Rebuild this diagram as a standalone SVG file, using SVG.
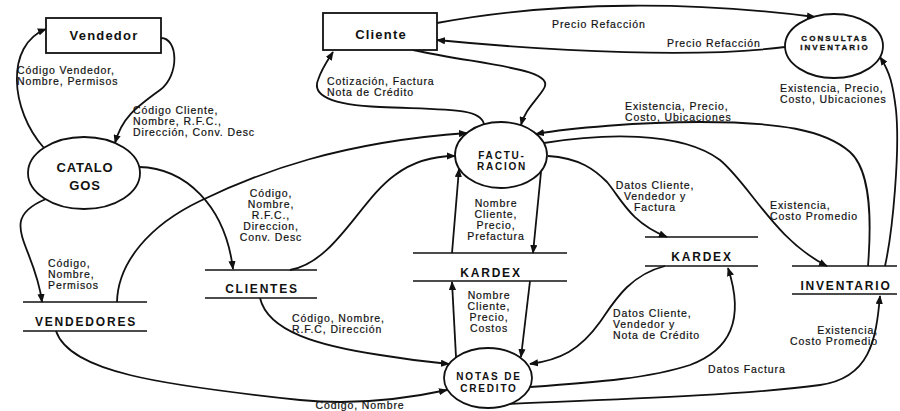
<svg xmlns="http://www.w3.org/2000/svg" width="900" height="411" viewBox="0 0 900 411">
  <style>
    .shape { fill: #fff; stroke: #111; stroke-width: 1.8; }
    .store { stroke: #111; stroke-width: 1.6; }
    .flow { fill: none; stroke: #111; stroke-width: 1.8; marker-end: url(#ah); }
    .lbl { font-family: "Liberation Sans", Arial, sans-serif; font-size: 10.5px; letter-spacing: 0.9px; fill: #111; stroke: #111; stroke-width: 0.2; }
    .mid { text-anchor: middle; }
    .end { text-anchor: end; }
    .ttl { font-family: "Liberation Sans", Arial, sans-serif; font-weight: bold; fill: #111; text-anchor: middle; }
    .t13 { font-size: 13px; letter-spacing: 1.2px; }
    .t10 { font-size: 10px; letter-spacing: 1.8px; }
    .t8 { font-size: 8px; letter-spacing: 2.1px; stroke: #111; stroke-width: 0.3; }
    .t12 { font-size: 12px; letter-spacing: 1.8px; }
  </style>
  <defs>
    <marker id="ah" viewBox="0 0 10 8" refX="9" refY="4" markerWidth="5" markerHeight="4" orient="auto" markerUnits="strokeWidth">
      <path d="M0,0 L10,4 L0,8 z" fill="#111"/>
    </marker>
  </defs>
  <rect width="900" height="411" fill="#fff"/>

  <!-- data flows -->
  <g id="connectors">
    <path class="flow" d="M44,148 C 10,110 5,45 46,29"/>
    <path class="flow" d="M161,38 C 178,38 180,75 160,90 C 135,108 122,118 115,143"/>
    <path class="flow" d="M437,23 C 560,0 700,2 815,17"/>
    <path class="flow" d="M785,47 C 700,58 560,52 437,40"/>
    <path class="flow" d="M413,50 C 480,65 560,68 543,90 C 535,102 525,110 521,125"/>
    <path class="flow" d="M484,124 C 480,108 450,110 380,107 C 330,105 312,95 318,80 C 322,68 328,60 333,52"/>
    <path class="flow" d="M885,266 C 893,230 900,150 896,110 C 893,85 890,72 880,57"/>
    <path class="flow" d="M868,266 C 872,215 870,170 850,152 C 825,130 780,122 700,122 C 640,122 570,128 536,134"/>
    <path class="flow" d="M544,143 C 600,134 680,130 720,160 C 750,185 775,240 827,266"/>
    <path class="flow" d="M548,156 C 580,158 595,170 607,182 C 622,200 630,222 667,237"/>
    <path class="flow" d="M541,172 L533,253"/>
    <path class="flow" d="M452,253 L459,169"/>
    <path class="flow" d="M530,281 L521,357"/>
    <path class="flow" d="M456,357 L452,282"/>
    <path class="flow" d="M665,266 C 630,275 615,300 600,322 C 580,350 560,360 530,364"/>
    <path class="flow" d="M530,387 C 600,382 650,378 690,365 C 730,350 745,320 728,268"/>
    <path class="flow" d="M508,404 C 600,400 750,395 820,385 C 870,378 876,340 880,296"/>
    <path class="flow" d="M139,167 C 185,168 225,205 233,269"/>
    <path class="flow" d="M290,270 C 335,262 360,200 395,175 C 415,160 435,156 455,156"/>
    <path class="flow" d="M117,302 C 118,262 150,225 200,201 C 260,172 340,142 467,133"/>
    <path class="flow" d="M46,199 C -5,220 35,245 42,302"/>
    <path class="flow" d="M56,331 C 70,372 160,385 300,400 C 360,406 410,398 447,390"/>
    <path class="flow" d="M260,298 C 268,332 320,346 380,355 C 410,360 428,362 449,364"/>
  </g>

  <!-- flow labels -->
  <g id="labels">
    <text class="lbl" x="17" y="74">Código Vendedor,</text>
    <text class="lbl" x="17" y="85">Nombre, Permisos</text>
    <text class="lbl" x="133" y="114">Código Cliente,</text>
    <text class="lbl" x="133" y="125">Nombre, R.F.C.,</text>
    <text class="lbl" x="133" y="136">Dirección, Conv. Desc</text>
    <text class="lbl" x="552" y="28">Precio Refacción</text>
    <text class="lbl" x="667" y="47">Precio Refacción</text>
    <text class="lbl" x="327" y="85">Cotización, Factura</text>
    <text class="lbl" x="327" y="96">Nota de Crédito</text>
    <text class="lbl" x="780" y="92">Existencia, Precio,</text>
    <text class="lbl" x="780" y="103">Costo, Ubicaciones</text>
    <text class="lbl" x="625" y="110">Existencia, Precio,</text>
    <text class="lbl" x="625" y="121">Costo, Ubicaciones</text>
    <text class="lbl mid" x="271" y="197">Código,</text>
    <text class="lbl mid" x="271" y="208">Nombre,</text>
    <text class="lbl mid" x="271" y="219">R.F.C.,</text>
    <text class="lbl mid" x="271" y="230">Direccion,</text>
    <text class="lbl mid" x="271" y="241">Conv. Desc</text>
    <text class="lbl mid" x="496" y="207">Nombre</text>
    <text class="lbl mid" x="496" y="218">Cliente,</text>
    <text class="lbl mid" x="496" y="229">Precio,</text>
    <text class="lbl mid" x="496" y="240">Prefactura</text>
    <text class="lbl mid" x="655" y="189">Datos Cliente,</text>
    <text class="lbl mid" x="655" y="200">Vendedor y</text>
    <text class="lbl mid" x="655" y="211">Factura</text>
    <text class="lbl" x="770" y="209">Existencia,</text>
    <text class="lbl" x="770" y="220">Costo Promedio</text>
    <text class="lbl mid" x="489" y="299">Nombre</text>
    <text class="lbl mid" x="489" y="310">Cliente,</text>
    <text class="lbl mid" x="489" y="321">Precio,</text>
    <text class="lbl mid" x="489" y="332">Costos</text>
    <text class="lbl" x="613" y="317">Datos Cliente,</text>
    <text class="lbl" x="613" y="328">Vendedor y</text>
    <text class="lbl" x="613" y="339">Nota de Crédito</text>
    <text class="lbl" x="292" y="322">Código, Nombre,</text>
    <text class="lbl" x="292" y="333">R.F.C, Dirección</text>
    <text class="lbl end" x="878" y="334">Existencia,</text>
    <text class="lbl end" x="878" y="345">Costo Promedio</text>
    <text class="lbl" x="708" y="373">Datos Factura</text>
    <text class="lbl mid" x="360" y="409">Código, Nombre</text>
    <text class="lbl" x="48" y="267">Código,</text>
    <text class="lbl" x="48" y="278">Nombre,</text>
    <text class="lbl" x="48" y="289">Permisos</text>
  </g>

  <!-- external entities -->
  <g id="vendedor">
    <rect class="shape" x="46" y="18" width="115" height="35"/>
    <text class="ttl t13" x="104" y="40">Vendedor</text>
  </g>
  <g id="cliente">
    <rect class="shape" x="323" y="13" width="114" height="37"/>
    <text class="ttl t13" x="381" y="39">Cliente</text>
  </g>

  <!-- processes -->
  <g id="consultas-inventario">
    <ellipse class="shape" cx="834" cy="46" rx="49" ry="32"/>
    <text class="ttl t8" x="835" y="41">CONSULTAS</text>
    <text class="ttl t8" x="835" y="50">INVENTARIO</text>
  </g>
  <g id="catalogos">
    <ellipse class="shape" cx="84" cy="173" rx="56" ry="36"/>
    <text class="ttl t13" x="85" y="172" style="letter-spacing:0.8px">CATALO</text>
    <text class="ttl t13" x="85" y="190" style="letter-spacing:0.8px">GOS</text>
  </g>
  <g id="facturacion">
    <ellipse class="shape" cx="501" cy="155" rx="46" ry="33"/>
    <text class="ttl t10" x="502" y="159">FACTU-</text>
    <text class="ttl t10" x="502" y="170">RACION</text>
  </g>
  <g id="notas-credito">
    <ellipse class="shape" cx="488" cy="378" rx="44" ry="30"/>
    <text class="ttl t10" x="489" y="380">NOTAS DE</text>
    <text class="ttl t10" x="489" y="392">CREDITO</text>
  </g>

  <!-- data stores -->
  <g id="vendedores">
    <line class="store" x1="23" y1="302" x2="147" y2="302"/>
    <line class="store" x1="23" y1="331" x2="147" y2="331"/>
    <text class="ttl t12" x="86" y="326">VENDEDORES</text>
  </g>
  <g id="clientes">
    <line class="store" x1="205" y1="270" x2="317" y2="270"/>
    <line class="store" x1="205" y1="298" x2="317" y2="298"/>
    <text class="ttl t12" x="262" y="293">CLIENTES</text>
  </g>
  <g id="kardex-1">
    <line class="store" x1="413" y1="253" x2="567" y2="253"/>
    <line class="store" x1="413" y1="281" x2="567" y2="281"/>
    <text class="ttl t12" x="491" y="277">KARDEX</text>
  </g>
  <g id="kardex-2">
    <line class="store" x1="645" y1="237" x2="758" y2="237"/>
    <line class="store" x1="645" y1="266" x2="758" y2="266"/>
    <text class="ttl t12" x="702" y="261">KARDEX</text>
  </g>
  <g id="inventario">
    <line class="store" x1="792" y1="266" x2="897" y2="266"/>
    <line class="store" x1="792" y1="294" x2="897" y2="294"/>
    <text class="ttl t12" x="846" y="290">INVENTARIO</text>
  </g>
</svg>
